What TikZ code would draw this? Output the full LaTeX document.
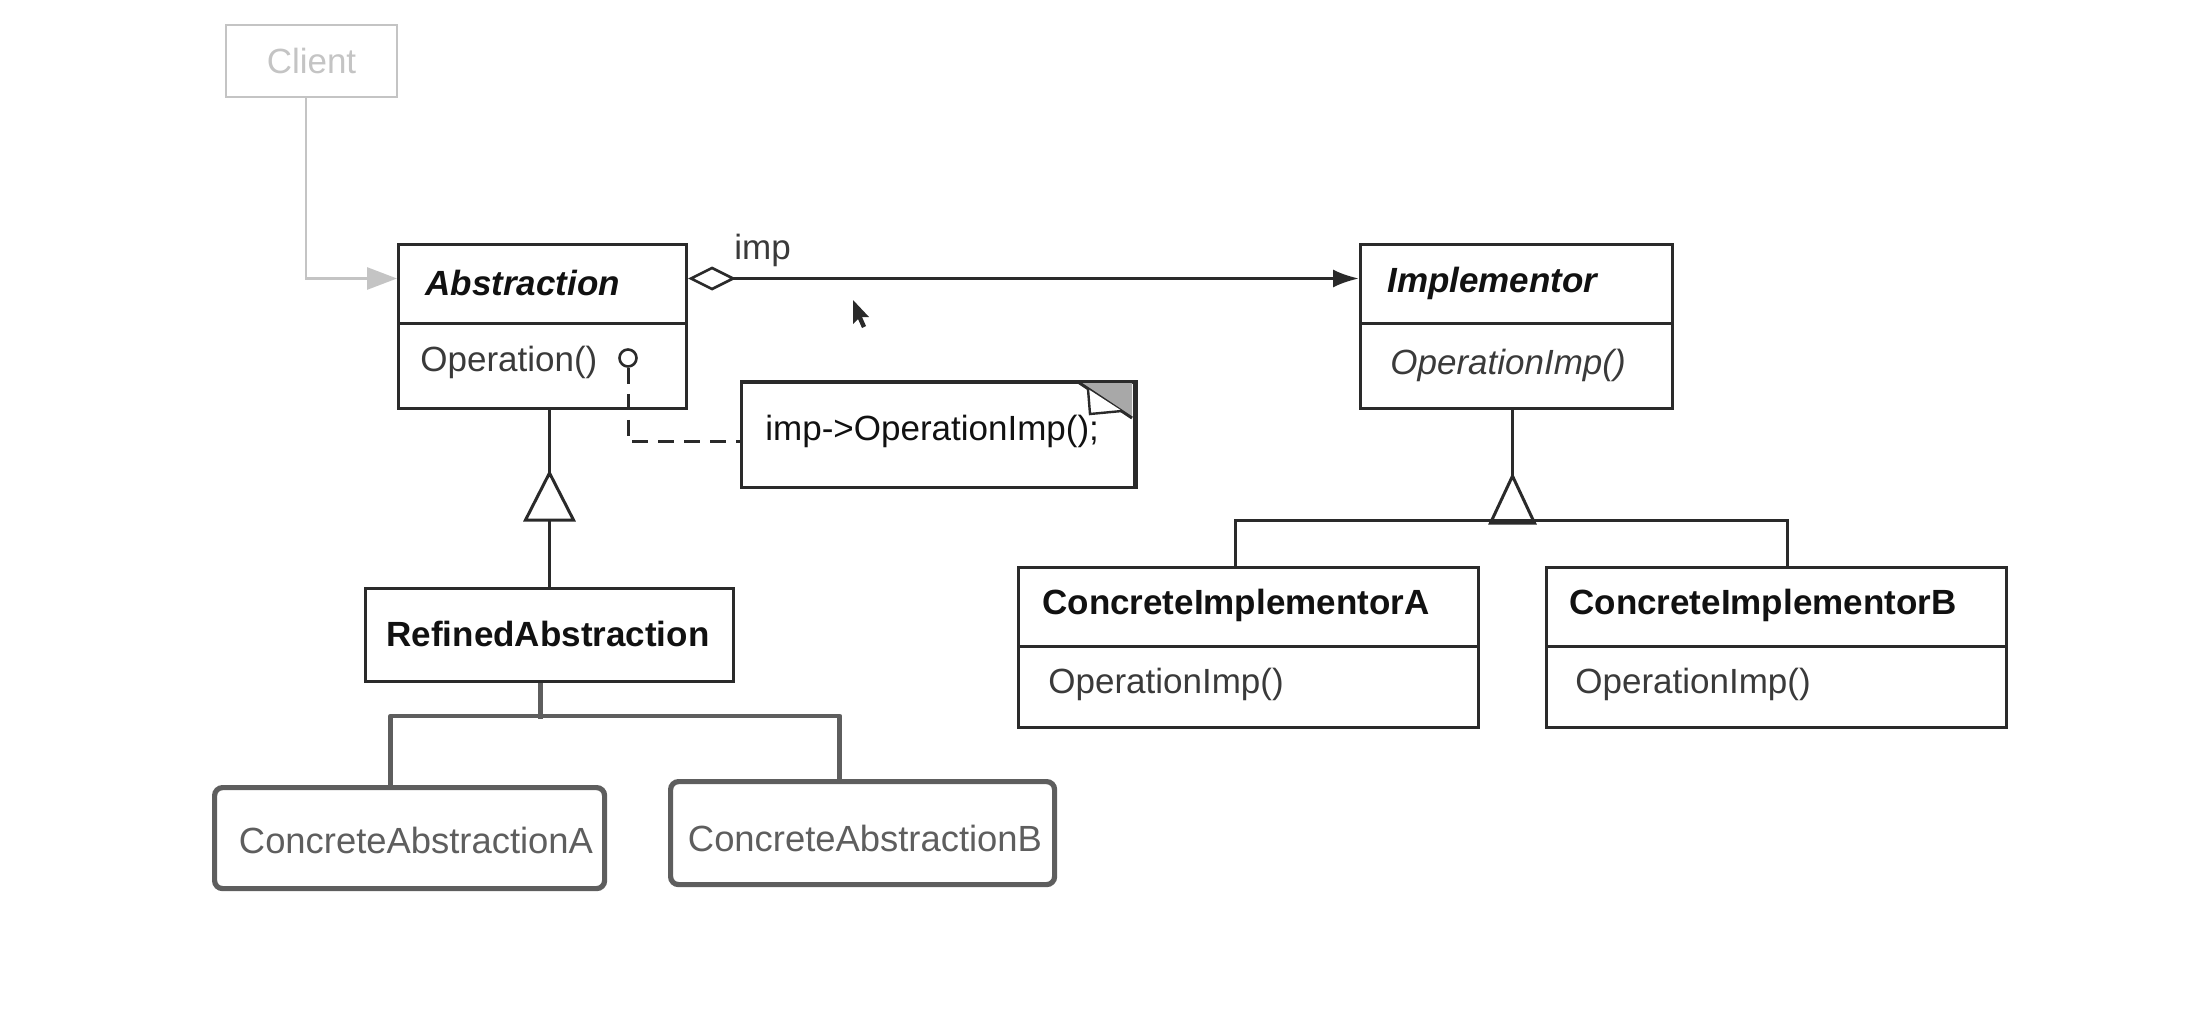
\documentclass[tikz,border=0pt]{standalone}
\usepackage{fontspec}
\setmainfont{Liberation Sans}
\usetikzlibrary{arrows.meta}
\definecolor{linec}{HTML}{2A2A2A}
\definecolor{textc}{HTML}{111111}
\definecolor{optc}{HTML}{3A3A3A}
\definecolor{clientc}{HTML}{C4C4C4}
\definecolor{graybox}{HTML}{5E5E5E}
\definecolor{foldc}{HTML}{A8A8A8}
\newcommand\myfs{\fontsize{17.5pt}{21pt}\selectfont}
\newcommand\myfsb{\fontsize{18.2pt}{22pt}\selectfont}
\tikzset{
  cls/.style={draw=linec, line width=1.5pt, inner sep=0pt, anchor=north west},
  lbl/.style={inner sep=0pt, anchor=west, font=\myfs, text=textc},
  ttl/.style={lbl, font=\myfs\bfseries},
  ttli/.style={lbl, font=\myfs\bfseries\itshape},
  opl/.style={lbl, text=optc},
  conn/.style={draw=linec, line width=1.5pt},
  graybus/.style={draw=graybox, line width=2.4pt, line join=round},
  cabox/.style={draw=graybox, line width=2.6pt, rounded corners=4pt, inner sep=0pt, anchor=north west, font=\myfsb, text=graybox},
}
\begin{document}
\begin{tikzpicture}[x=0.5pt, y=-0.5pt]
\useasboundingbox (0,0) rectangle (2202,1022);

% Client
\node[draw=clientc, line width=1.4pt, inner sep=0pt, minimum width=85.5pt, minimum height=36pt, font=\myfs, text=clientc] (client) at (311.5,61) {Client};

% Abstraction
\node[cls, minimum width=144pt, minimum height=82pt] (abs) at (397,243) {};
\draw[conn] (397,323) -- (685,323);
\node[ttli] (absT) at (425,283) {Abstraction};
\node[opl] (absOp) at (420,362) {Operation()};
\node[draw=linec, line width=1.3pt, circle, inner sep=0pt, minimum size=8.5pt] (lol) at (628,358) {};

% Note
\node[cls, minimum width=196.5pt, minimum height=52.5pt] (note) at (740,381) {};
\fill[foldc] (1078,382) -- (1132,382) -- (1132,418) -- cycle;
\draw[conn] (1078,382) -- (1132,418);
\draw[draw=linec, line width=1.2pt, fill=white] (1088,389) -- (1090,414) -- (1122,411);
\draw[conn] (note.north west) -- (note.north east) -- (note.south east);
\node[lbl] (noteT) at (765,431) {imp->OperationImp();};
\draw[conn, dashed, dash pattern=on 8pt off 5pt] (lol.south) |- ([yshift=-3.25pt]note.west);

% Implementor
\node[cls, minimum width=156pt, minimum height=82pt] (impl) at (1359,243) {};
\draw[conn] (1359,323) -- (1671,323);
\node[ttli] (implT) at (1387,283) {Implementor};
\node[opl, font=\myfs\itshape] (implOp) at (1390,365) {OperationImp()};

% aggregation
\draw[conn, {Diamond[open, length=24pt, width=12pt, line width=1.3pt]}-{Latex[length=13pt, width=9pt]}]
  ([yshift=24pt]abs.east) -- ([yshift=24pt]impl.west);
\node[lbl, text=optc] (impLbl) at (734,250) {imp};

% Concrete implementors
\node[cls, minimum width=230pt, minimum height=80pt] (ciA) at (1017,566) {};
\draw[conn] (1017,646) -- (1477,646);
\node[ttl] (ciAT) at (1042,605) {ConcreteImplementorA};
\node[opl] (ciAOp) at (1048,684) {OperationImp()};

\node[cls, minimum width=230pt, minimum height=80pt] (ciB) at (1545,566) {};
\draw[conn] (1545,646) -- (2005,646);
\node[ttl] (ciBT) at (1569,605) {ConcreteImplementorB};
\node[opl] (ciBOp) at (1575,684) {OperationImp()};

% Implementor inheritance
\draw[conn] ([xshift=-2pt]impl.south) -- ++(0,66) coordinate (ta2);
\draw[conn, fill=white, line join=miter] (ta2) -- ++(-22,47) -- ++(44,0) -- cycle;
\draw[conn] ([xshift=-6.5pt]ciA.north) -- ++(0,-46) -| ([xshift=5.5pt]ciB.north);

% Refined abstraction
\node[cls, minimum width=184pt, minimum height=46.5pt] (ref) at (364,587) {};
\node[ttl, anchor=center] (refT) at (548,634) {RefinedAbstraction};
\draw[conn] (ref.north) -- ++(0,-67) coordinate (tb1);
\draw[conn, fill=white, line join=miter] (tb1) ++(-24,0) -- ++(24,-47) -- ++(24,47) -- cycle;
\draw[conn] (tb1) ++(0,-47) -- (ref.north |- abs.south);

% Concrete abstractions
\node[cabox, minimum width=195pt, minimum height=50.5pt] (caA) at (212,785) {};
\node[inner sep=0pt, font=\myfsb, text=graybox] (caAT) at (416,840) {ConcreteAbstractionA};
\node[cabox, minimum width=192pt, minimum height=51.5pt] (caB) at (668,779) {};
\node[inner sep=0pt, font=\myfsb, text=graybox] (caBT) at (865,838) {ConcreteAbstractionB};
\draw[graybus] ([xshift=-4.5pt]ref.south) -- ++(0,36);
\draw[graybus] ([xshift=-9.5pt]caA.north) -- ++(0,-69) -| ([xshift=-11.5pt]caB.north);

% Client connector
\draw[draw=clientc, line width=1.4pt, -{Triangle[length=15pt, width=11pt]}]
  ([xshift=-2.75pt]client.south) |- ([yshift=24pt]abs.west);

% mouse cursor
\fill[linec] (853,300) -- (853,324) -- (858,319) -- (862,328) -- (866,326) -- (862,317) -- (869,317) -- cycle;
\end{tikzpicture}
\end{document}
